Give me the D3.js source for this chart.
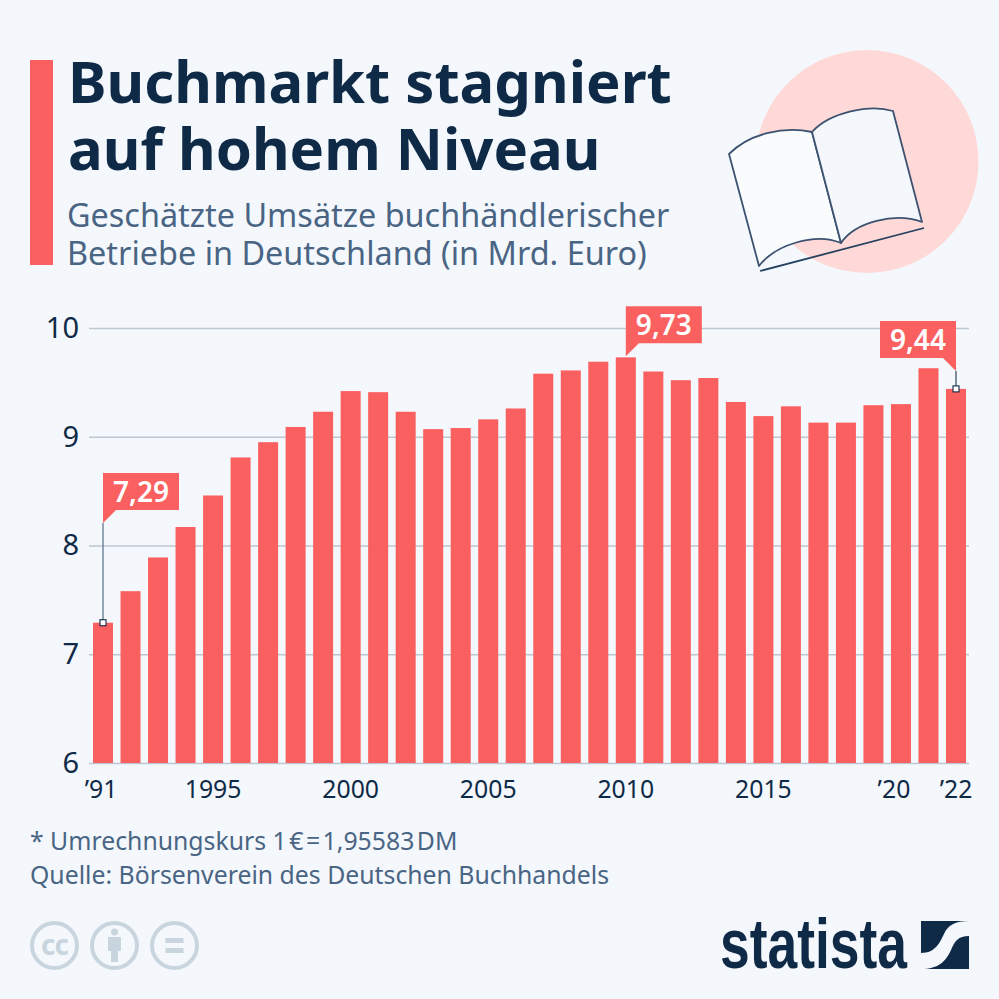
<!DOCTYPE html>
<html>
<head>
<meta charset="utf-8">
<script src="https://cdn.jsdelivr.net/npm/d3@7"></script>
<style>
	html, body { margin: 0; padding: 0; background: #f4f8fc; }
	svg { display: block; font-family: "Noto Sans", sans-serif; }
	.axis .domain { display: none; }
	.axis line { stroke: #bcc7d2; stroke-width: 1.3; }
</style>
</head>
<body>
<svg id="chart" width="999" height="999"></svg>
<script>
var years = ["1991","1992","1993","1994","1995","1996","1997","1998","1999","2000","2001","2002","2003","2004","2005","2006","2007","2008","2009","2010","2011","2012","2013","2014","2015","2016","2017","2018","2019","2020","2021","2022"];
var revenue = [7.29,7.58,7.89,8.17,8.46,8.81,8.95,9.09,9.23,9.42,9.41,9.23,9.07,9.08,9.16,9.26,9.58,9.61,9.69,9.73,9.60,9.52,9.54,9.32,9.19,9.28,9.13,9.13,9.29,9.30,9.63,9.44];
var yTicks = [6,7,8,9,10];
var xTicks = ["1991","1995","2000","2005","2010","2015","2020","2022"];
var xTickLabels = ["\u201991","1995","2000","2005","2010","2015","\u201920","\u201922"];
var titleLines = ["Buchmarkt stagniert","auf hohem Niveau"];
var subtitleLines = ["Geschätzte Umsätze buchhändlerischer","Betriebe in Deutschland (in Mrd. Euro)"];
var footLines = ["* Umrechnungskurs 1\u200A€\u200A=\u200A1,95583\u200ADM","Quelle: Börsenverein des Deutschen Buchhandels"];
var callYears = ["1991","2010","2022"];
var callLabels = ["7,29","9,73","9,44"];

var red = "#fb6060", navy = "#0f2a47", slate = "#4a6584", pale = "#c9d5de";
var svg = d3.select("#chart");

// Scales
var x = d3.scaleBand().domain(years).range([93, 966]).paddingInner(0.2727);
var y = d3.scaleLinear().domain([6, 10]).range([763, 328]);
var cx = function(yr){ return x(yr) + x.bandwidth() / 2; };
var valueOf = function(yr){ return revenue[years.indexOf(yr)]; };

// Header
svg.append("rect").attr("x", 30).attr("y", 60).attr("width", 23).attr("height", 205).attr("fill", red);

svg.selectAll(".title").data(titleLines).enter().append("text")
	.attr("x", 68)
	.attr("y", function(d,i){ return 103 + i * 67; })
	.attr("font-size", 58).attr("font-weight", 700).attr("fill", navy)
	.text(function(d){ return d; });

svg.selectAll(".subtitle").data(subtitleLines).enter().append("text")
	.attr("x", 67)
	.attr("y", function(d,i){ return 227 + i * 38; })
	.attr("font-size", 32.4).attr("fill", slate)
	.text(function(d){ return d; });

// Book picture
var book = svg.append("g");
book.append("circle").attr("cx", 867).attr("cy", 161.5).attr("r", 111.5).attr("fill", "#ffd9d8");
book.append("path")
	.attr("d", "M729,154 C750,133 785,126 812,132 L841,243 C815,232 775,245 759,266 Z")
	.attr("fill", "#f9fbfd").attr("stroke", "#3c5270").attr("stroke-width", 1.8).attr("stroke-linejoin", "round");
book.append("path")
	.attr("d", "M812,132 C830,112 870,104 893,111 L922,222 C895,212 855,222 841,243 Z")
	.attr("fill", "#f4f8fc").attr("stroke", "#3c5270").attr("stroke-width", 1.8).attr("stroke-linejoin", "round");
book.append("line").attr("x1", 760).attr("y1", 271).attr("x2", 924).attr("y2", 228)
	.attr("stroke", "#26405f").attr("stroke-width", 1.8);

// Axes
svg.append("g").attr("class", "axis")
	.attr("transform", "translate(89,0)")
	.call(d3.axisLeft(y).tickValues(yTicks).tickFormat(d3.format("d")).tickSize(-880).tickPadding(11))
	.call(function(g){
		g.selectAll("text").attr("font-size", 29).attr("fill", navy).attr("x", -10).attr("font-family", "'Noto Sans', sans-serif");
	});

svg.append("g").attr("class", "axis")
	.attr("transform", "translate(0,763)")
	.call(d3.axisBottom(x).tickValues(xTicks).tickSize(0).tickPadding(17)
		.tickFormat(function(d){ return xTickLabels[xTicks.indexOf(d)]; }))
	.call(function(g){
		g.selectAll("text").attr("font-size", 24.8).attr("fill", navy).attr("font-family", "'Noto Sans', sans-serif")
			.attr("dx", function(d){ return d == "1991" ? -2 : d == "2020" ? -7 : 0; });
	});

// Bars
svg.append("g").selectAll("rect").data(revenue).enter().append("rect")
	.attr("x", function(d,i){ return x(years[i]); })
	.attr("y", function(d){ return y(d); })
	.attr("width", x.bandwidth())
	.attr("height", function(d){ return y(6) - y(d); })
	.attr("fill", red);

// Callouts
var boxW = 76, boxH = 37, tail = 13;
callYears.forEach(function(yr, i){
	var px = cx(yr), py = y(valueOf(yr));
	var g = svg.append("g");
	if (yr == "1991") {
		var top = 473;
		g.append("path").attr("fill", red)
			.attr("d", d3.line()([[px,top],[px+boxW,top],[px+boxW,top+boxH],[px+tail,top+boxH],[px,top+boxH+tail]]));
		g.append("line").attr("x1", px).attr("x2", px).attr("y1", top+boxH+tail).attr("y2", py)
			.attr("stroke", "#6d8197").attr("stroke-width", 1.4);
		g.append("rect").attr("x", px-3).attr("y", py-3).attr("width", 6).attr("height", 6)
			.attr("fill", "#fff").attr("stroke", navy).attr("stroke-width", 1.1);
		g.append("text").attr("x", px+boxW/2).attr("y", top+29).text(callLabels[i]);
	} else if (yr == "2010") {
		var top2 = py - 51;
		g.append("path").attr("fill", red)
			.attr("d", d3.line()([[px,top2],[px+boxW,top2],[px+boxW,top2+boxH],[px+tail,top2+boxH],[px,top2+boxH+tail]]));
		g.append("text").attr("x", px+boxW/2).attr("y", top2+29).text(callLabels[i]);
	} else {
		var top3 = 321;
		g.append("path").attr("fill", red)
			.attr("d", d3.line()([[px-boxW,top3],[px,top3],[px,top3+boxH+tail],[px-tail,top3+boxH],[px-boxW,top3+boxH]]));
		g.append("line").attr("x1", px).attr("x2", px).attr("y1", top3+boxH+tail).attr("y2", py)
			.attr("stroke", "#4a6078").attr("stroke-width", 1.4);
		g.append("rect").attr("x", px-3).attr("y", py-3).attr("width", 6).attr("height", 6)
			.attr("fill", "#fff").attr("stroke", navy).attr("stroke-width", 1.1);
		g.append("text").attr("x", px-boxW/2).attr("y", top3+29).text(callLabels[i]);
	}
	g.select("text").attr("text-anchor", "middle").attr("font-size", 28).attr("font-weight", 600).attr("fill", "#fff");
});

// Footer
svg.selectAll(".foot").data(footLines).enter().append("text")
	.attr("x", 30)
	.attr("y", function(d,i){ return 850 + i * 34; })
	.attr("font-size", 24.8).attr("fill", slate)
	.text(function(d){ return d; });

// Licence icons
var icons = svg.append("g");
[54.5, 114.5, 174.5].forEach(function(c){
	icons.append("circle").attr("cx", c).attr("cy", 945.5).attr("r", 22.5)
		.attr("fill", "none").attr("stroke", pale).attr("stroke-width", 4);
});
icons.append("text").attr("x", 54.5).attr("y", 955).attr("text-anchor", "middle")
	.attr("font-size", 28).attr("font-weight", 700).attr("fill", pale).attr("letter-spacing", -1).text("cc");
icons.append("circle").attr("cx", 114.5).attr("cy", 932).attr("r", 3.5).attr("fill", pale);
icons.append("path").attr("fill", pale)
	.attr("d", "M108,937 H121 V951 H118 V962 H111 V951 H108 Z");
icons.append("rect").attr("x", 165.5).attr("y", 938).attr("width", 18).attr("height", 5).attr("fill", pale);
icons.append("rect").attr("x", 165.5).attr("y", 948).attr("width", 18).attr("height", 5).attr("fill", pale);

// Logo
svg.append("text").attr("x", 720).attr("y", 968)
	.attr("font-family", "'Liberation Sans Narrow', 'Liberation Sans', sans-serif")
	.attr("font-size", 71).attr("font-weight", 700).attr("fill", navy)
	.attr("textLength", 187).attr("lengthAdjust", "spacingAndGlyphs")
	.text("statista");
svg.append("rect").attr("x", 921).attr("y", 921).attr("width", 48).attr("height", 48).attr("fill", navy);
svg.append("path").attr("fill", "#f4f8fc")
	.attr("d", "M921,953 C936,953 940,942 944,934 C948,925 955,921 969,921 L969,936 C958,936 955,941 951,950 C946,961 939,969 921,969 Z");
</script>
</body>
</html>
